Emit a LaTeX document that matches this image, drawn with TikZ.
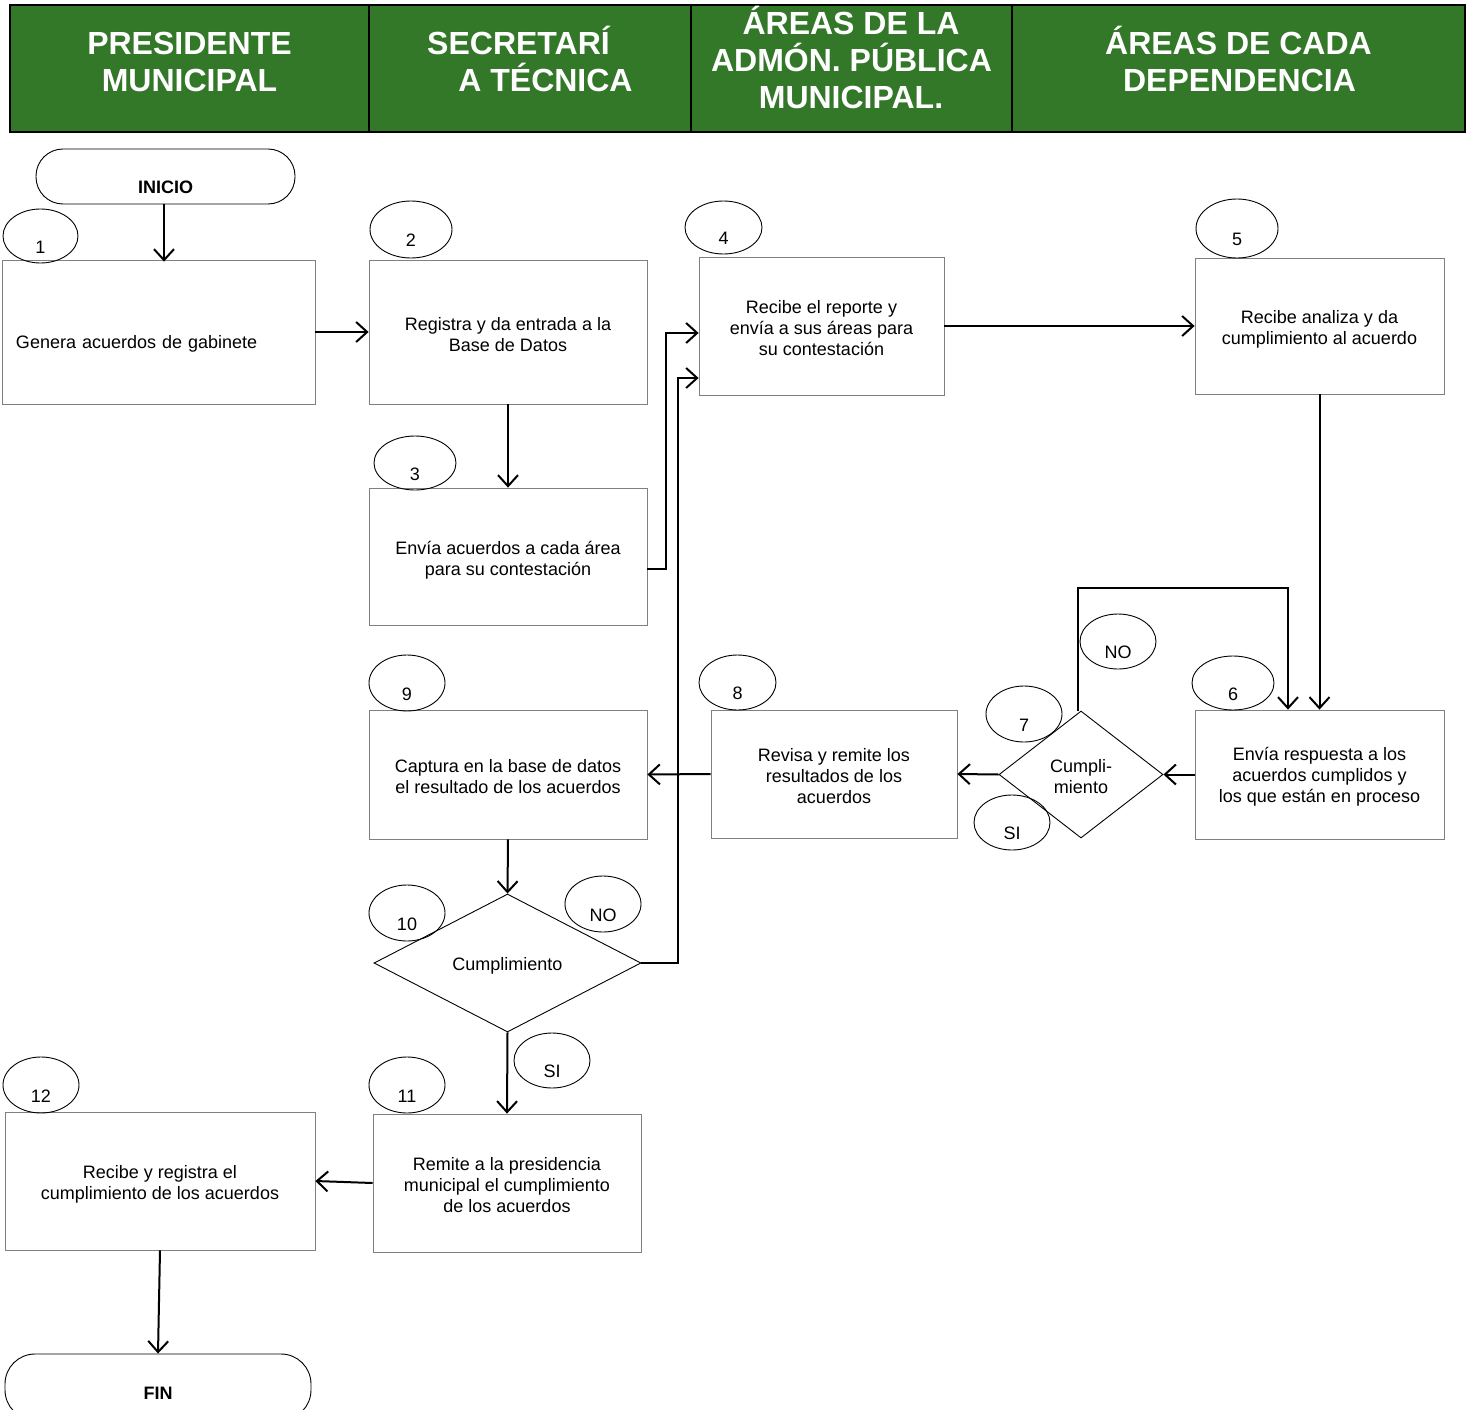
\documentclass[tikz,border=0pt]{standalone}
\usepackage{fontspec}
\setmainfont{Liberation Sans}
\usetikzlibrary{arrows.meta,shapes.geometric,calc}
\definecolor{hdrgreen}{RGB}{51,119,41}
\definecolor{boxgray}{RGB}{128,128,128}
\newcommand\bodyfont{\fontsize{18}{21}\selectfont}
\begin{document}
\begin{tikzpicture}[x=1pt,y=-1pt,
  hcell/.style={draw=black, fill=hdrgreen, line width=2.2pt, inner sep=0pt},
  hdr/.style={text=white, font=\bfseries\fontsize{32}{37}\selectfont, anchor=base, inner sep=0pt},
  oneline/.style={text height=14pt, text depth=0pt},
  twolines/.style={text height=38pt, text depth=0pt},
  threelines/.style={text height=59pt, text depth=0pt},
  box/.style={draw=boxgray, line width=0.8pt, inner sep=0pt, align=center, font=\bodyfont},
  numell/.style={ellipse, draw=black, line width=0.9pt, inner sep=0pt, text height=34pt, text depth=0pt, font=\bodyfont},
  term/.style={draw=black, rounded corners=27pt, line width=0.9pt, inner sep=0pt, font=\bfseries\bodyfont, text height=34pt, text depth=0pt},
  dec/.style={diamond, draw=black, line width=0.9pt, inner sep=0pt, align=center, font=\bodyfont},
  arr/.style={line width=2pt, -{Straight Barb[length=11pt,width=20pt,line width=2pt]}}
]
\useasboundingbox (0,0) rectangle (1470,1410);

% header
\node[hcell, minimum width=359pt, minimum height=127pt] (c1) at (189.5,68.5) {};
\node[hcell, minimum width=322pt, minimum height=127pt] (c2) at (530,68.5) {};
\node[hcell, minimum width=321pt, minimum height=127pt] (c3) at (851.5,68.5) {};
\node[hcell, minimum width=453pt, minimum height=127pt] (c4) at (1238.5,68.5) {};
\node[hdr] (h1a) at (189.5,54.5) {PRESIDENTE};
\node[hdr] (h1b) at (189.5,91.5) {MUNICIPAL};
\node[hdr] (h2a) at (518.5,54.5) {SECRETARÍ};
\node[hdr] (h2b) at (545.5,91.5) {A TÉCNICA};
\node[hdr] (h3a) at (851,34.5) {ÁREAS DE LA};
\node[hdr] (h3b) at (851.5,71.5) {ADMÓN. PÚBLICA};
\node[hdr] (h3c) at (851,108.5) {MUNICIPAL.};
\node[hdr] (h4a) at (1238.5,54.5) {ÁREAS DE CADA};
\node[hdr] (h4b) at (1239.5,91.5) {DEPENDENCIA};

% terminals
\node[term, minimum width=259pt, minimum height=55pt] (inicio) at (165.5,176.5) {INICIO};
\node[term, rounded corners=30pt, text height=25pt, minimum width=306pt, minimum height=66pt] (fin) at (158,1387) {FIN};

% boxes
\node[box, minimum width=313pt, minimum height=144pt, text width=285pt, inner xsep=14pt, align=left, text height=33pt, text depth=0pt] (b1) at (158.5,332) {Genera acuerdos de gabinete};
\node[box, twolines, minimum width=278pt, minimum height=144pt] (b2) at (508,332) {Registra y da entrada a la\\Base de Datos};
\node[box, twolines, minimum width=278pt, minimum height=137pt] (b3) at (508,556.5) {Envía acuerdos a cada área\\para su contestación};
\node[box, threelines, minimum width=245pt, minimum height=138pt] (b4) at (821.5,326) {Recibe el reporte y\\envía a sus áreas para\\su contestación};
\node[box, twolines, text height=37pt, minimum width=249pt, minimum height=136pt] (b5) at (1319.5,326) {Recibe analiza y da\\cumplimiento al acuerdo};
\node[box, threelines, text height=56pt, minimum width=249pt, minimum height=129pt] (b6) at (1319.5,774.5) {Envía respuesta a los\\acuerdos cumplidos y\\los que están en proceso};
\node[box, threelines, minimum width=246pt, minimum height=128pt] (b8) at (834,774) {Revisa y remite los\\resultados de los\\acuerdos};
\node[box, twolines, minimum width=278pt, minimum height=129pt] (b9) at (508,774.5) {Captura en la base de datos\\el resultado de los acuerdos};
\node[box, threelines, minimum width=268pt, minimum height=138pt] (b11) at (507,1183) {Remite a la presidencia\\municipal el cumplimiento\\de los acuerdos};
\node[box, twolines, text height=37pt, minimum width=310pt, minimum height=138pt] (b12) at (160,1181) {Recibe y registra el\\cumplimiento de los acuerdos};

% decisions
\node[dec, twolines, minimum width=164pt, minimum height=127pt] (d7) at (1081,774.5) {Cumpli-\\miento};
\node[dec, oneline, minimum width=267pt, minimum height=138pt] (d10) at (507.5,963) {Cumplimiento};

% numbered ellipses
\node[numell, minimum width=75pt, minimum height=54pt] (e1) at (40.5,236) {1};
\node[numell, minimum width=82pt, minimum height=57pt] (e2) at (411,229.5) {2};
\node[numell, minimum width=82pt, minimum height=54pt] (e3) at (415,463) {3};
\node[numell, minimum width=77pt, minimum height=53pt] (e4) at (723.5,227.5) {4};
\node[numell, minimum width=82pt, minimum height=59pt] (e5) at (1237,228.5) {5};
\node[numell, minimum width=82pt, minimum height=54pt] (e6) at (1233,683) {6};
\node[numell, minimum width=76pt, minimum height=56pt] (e7) at (1024,714) {7};
\node[numell, minimum width=76pt, minimum height=55pt] (esi7) at (1012,822.5) {SI};
\node[numell, minimum width=76pt, minimum height=55pt] (eno7) at (1118,641.5) {NO};
\node[numell, minimum width=77pt, minimum height=55pt] (e8) at (737.5,682.5) {8};
\node[numell, minimum width=76pt, minimum height=56pt] (e9) at (407,683) {9};
\node[numell, minimum width=76pt, minimum height=56pt] (e10) at (407,913) {10};
\node[numell, minimum width=76pt, minimum height=56pt] (eno10) at (603,904) {NO};
\node[numell, minimum width=76pt, minimum height=55pt] (esi10) at (552,1060.5) {SI};
\node[numell, minimum width=76pt, minimum height=56pt] (e11) at (407,1085) {11};
\node[numell, minimum width=76pt, minimum height=56pt] (e12) at (41,1085) {12};

% connectors
\draw[arr] ([xshift=-1.5pt]inicio.south) -- ([xshift=-1.5pt,yshift=-2pt]inicio.south |- b1.north);
\draw[arr] (b1.east) -- (b2.west);
\draw[arr] (b2.south) -- (b3.north);
\draw[arr] ([yshift=-12.5pt]b3.east) -| ([xshift=-33pt,yshift=-7pt]b4.west) -- ([yshift=-7pt]b4.west);
\draw[arr] (d10.east) -| ([xshift=-21pt,yshift=-52pt]b4.west) -- ([yshift=-52pt]b4.west);
\draw[arr] (b4.east) -- (b5.west);
\draw[arr] (b5.south) -- (b6.north);
\draw[arr] (b6.west) -- (d7.east);
\draw[arr] ([xshift=-3pt]d7.north) -- ([xshift=-3pt,yshift=123pt]d7.north) -| ([xshift=-31.5pt]b6.north);
\draw[arr] (d7.west) -- (b8.east);
\draw[arr] (b8.west) -- (b9.east);
\draw[arr] (b9.south) -- (d10.north);
\draw[arr] (d10.south) -- (b11.north);
\draw[arr] (b11.west) -- (b12.east);
\draw[arr] (b12.south) -- (fin.north);
\end{tikzpicture}
\end{document}
